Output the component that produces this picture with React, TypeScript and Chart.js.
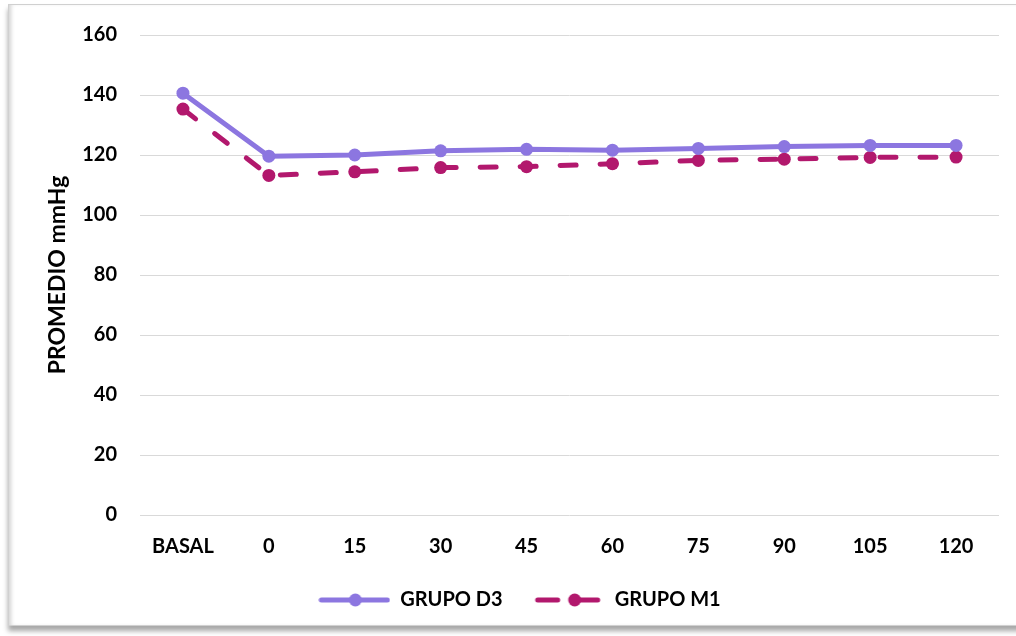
import React, { useEffect, useRef } from "react";
import { Chart, registerables } from "chart.js";

Chart.register(...registerables);

const categories = ["BASAL", "0", "15", "30", "45", "60", "75", "90", "105", "120"];
const grupoD3 = [140.6, 119.6, 120.0, 121.4, 121.9, 121.6, 122.2, 122.8, 123.2, 123.2];
const grupoM1 = [135.3, 113.2, 114.4, 115.8, 116.1, 117.1, 118.2, 118.6, 119.2, 119.3];
const seriesNames = ["GRUPO D3", "GRUPO M1"];
const yMin = 0;
const yMax = 160;
const yStep = 20;
const yTitle = "PROMEDIO mmHg";

const colorD3 = "#8C76E0";
const colorM1 = "#B2186D";
const FONT = "Lato, 'Open Sans', sans-serif";

function legendIcon(color: string, dashed: boolean): HTMLCanvasElement {
  const c = document.createElement("canvas");
  c.width = 72;
  c.height = 16;
  const ctx = c.getContext("2d")!;
  ctx.strokeStyle = color;
  ctx.fillStyle = color;
  ctx.lineWidth = 5;
  ctx.lineCap = "round";
  ctx.beginPath();
  if (dashed) {
    ctx.moveTo(5, 8);
    ctx.lineTo(25, 8);
    ctx.moveTo(42, 8);
    ctx.lineTo(65, 8);
  } else {
    ctx.moveTo(3, 8);
    ctx.lineTo(69, 8);
  }
  ctx.stroke();
  ctx.beginPath();
  ctx.arc(dashed ? 42 : 37, 8, 6.5, 0, Math.PI * 2);
  ctx.fill();
  return c;
}

export default function App() {
  const ref = useRef<HTMLCanvasElement | null>(null);

  useEffect(() => {
    if (!ref.current) return;
    const icons = [legendIcon(colorD3, false), legendIcon(colorM1, true)];
    const chart = new Chart(ref.current, {
      type: "line",
      data: {
        labels: categories,
        datasets: [
          {
            label: seriesNames[0],
            data: grupoD3,
            borderColor: colorD3,
            backgroundColor: colorD3,
            borderWidth: 5,
            pointRadius: 6.5,
            pointBorderWidth: 0,
            pointBackgroundColor: colorD3,
            borderCapStyle: "round",
            borderJoinStyle: "round",
            tension: 0,
          },
          {
            label: seriesNames[1],
            data: grupoM1,
            borderColor: colorM1,
            backgroundColor: colorM1,
            borderWidth: 5,
            borderDash: [16, 24],
            borderCapStyle: "round",
            borderJoinStyle: "round",
            pointRadius: 6.5,
            pointBorderWidth: 0,
            pointBackgroundColor: colorM1,
            tension: 0,
          },
        ],
      },
      options: {
        animation: false,
        responsive: false,
        maintainAspectRatio: false,
        layout: { padding: { left: 40, right: 17, top: 33, bottom: 16 } },
        elements: { point: { pointStyle: "circle" } },
        plugins: {
          tooltip: { enabled: false },
          legend: {
            position: "bottom",
            labels: {
              usePointStyle: true,
              pointStyleWidth: 72,
              padding: 30,
              color: "#000",
              font: { family: FONT, size: 20, weight: "bold" },
              generateLabels: (ch: any) =>
                ch.data.datasets.map((ds: any, i: number) => ({
                  text: ds.label,
                  fillStyle: ds.borderColor,
                  strokeStyle: ds.borderColor,
                  lineWidth: 0,
                  pointStyle: icons[i],
                  hidden: false,
                  datasetIndex: i,
                  fontColor: "#000",
                })),
            },
          },
        },
        scales: {
          x: {
            offset: true,
            grid: { display: false, drawTicks: false },
            border: { display: false },
            ticks: {
              color: "#000",
              padding: 20,
              font: { family: FONT, size: 20, weight: "bold" },
              maxRotation: 0,
              autoSkip: false,
            },
            afterFit: (s: any) => {
              s.height = 45;
            },
          },
          y: {
            min: yMin,
            max: yMax,
            grid: { color: "#D9D9D9", lineWidth: 1, drawTicks: false },
            border: { display: false },
            ticks: {
              stepSize: yStep,
              color: "#000",
              padding: 23,
              font: { family: FONT, size: 20, weight: "bold" },
            },
            title: {
              display: true,
              text: yTitle,
              color: "#000",
              padding: { top: 4, bottom: 0 },
              font: { family: FONT, size: 23, weight: "bold" },
            },
            afterFit: (s: any) => {
              s.width = 100;
            },
          },
        },
      },
    });
    return () => chart.destroy();
  }, []);

  return (
    <div style={{ position: "absolute", left: 0, top: 0, width: 1016, height: 636, overflow: "hidden", background: "#fff" }}>
      <div
        style={{
          position: "absolute",
          left: 8,
          top: 4,
          width: 1030,
          height: 620,
          border: "1px solid #D0D0D0",
          background: "#fff",
          boxShadow: "inset 4px 0 4px -2px rgba(0,0,0,0.18), 0 5px 5px rgba(0,0,0,0.35)",
        }}
      />
      <canvas ref={ref} width={1016} height={636} style={{ position: "absolute", left: 0, top: 0 }} />
    </div>
  );
}
